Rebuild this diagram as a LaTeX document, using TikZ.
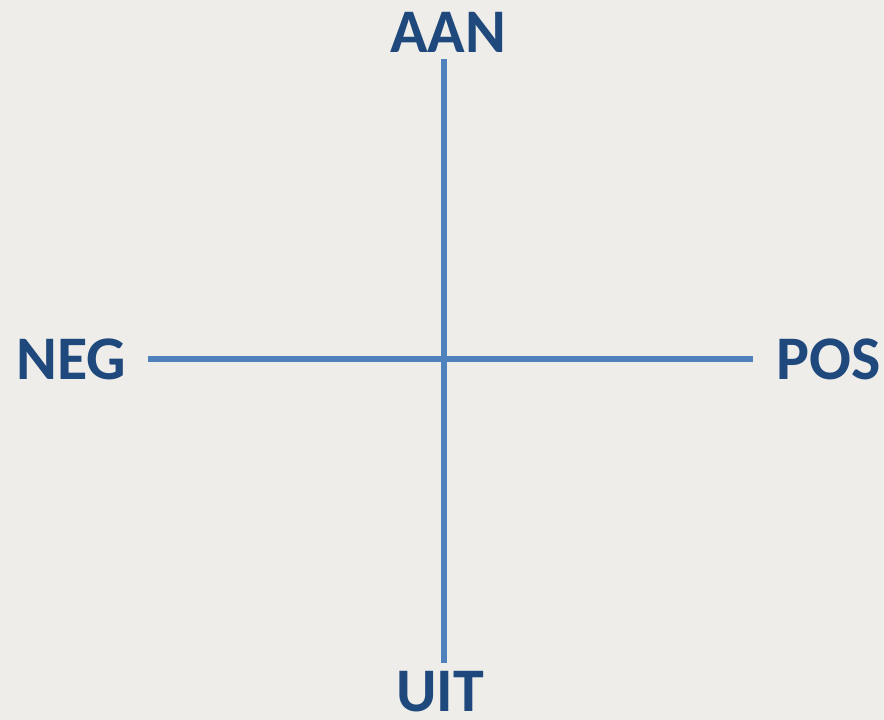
\documentclass[tikz,border=0pt]{standalone}
\usepackage{fontspec}
\setmainfont{Carlito}
\usepackage{tikz}
\usetikzlibrary{positioning}
\usepackage{xcolor}
\definecolor{axisblue}{HTML}{4F81BD}
\definecolor{labelblue}{HTML}{1F497D}
\definecolor{paper}{HTML}{EEEDE9}

\begin{document}
\begin{tikzpicture}[x=1pt, y=-1pt,
axisline/.style={draw=axisblue, line width=6pt},
axislabel/.style={text=labelblue, font=\fontsize{62}{62}\selectfont\bfseries, inner sep=0pt, anchor=base},
]
%Background
\fill[paper] (0,0) rectangle (884,720);
\useasboundingbox (0,0) rectangle (884,720);
%Nodes
\coordinate (T) at (444,59);
\coordinate (B) at (444,663);
\coordinate (L) at (148,359);
\coordinate (R) at (753,359);
\node[axislabel] (AAN) at (448,52) {AAN};
\node[axislabel] (UIT) at (440,711) {UIT};
\node[axislabel] (NEG) at (71,379) {NEG};
\node[axislabel] (POS) at (829,379) {POS};
%Axes
\path[axisline] (T) -- (B);
\path[axisline] (L) -- (R);
\end{tikzpicture}
\end{document}
